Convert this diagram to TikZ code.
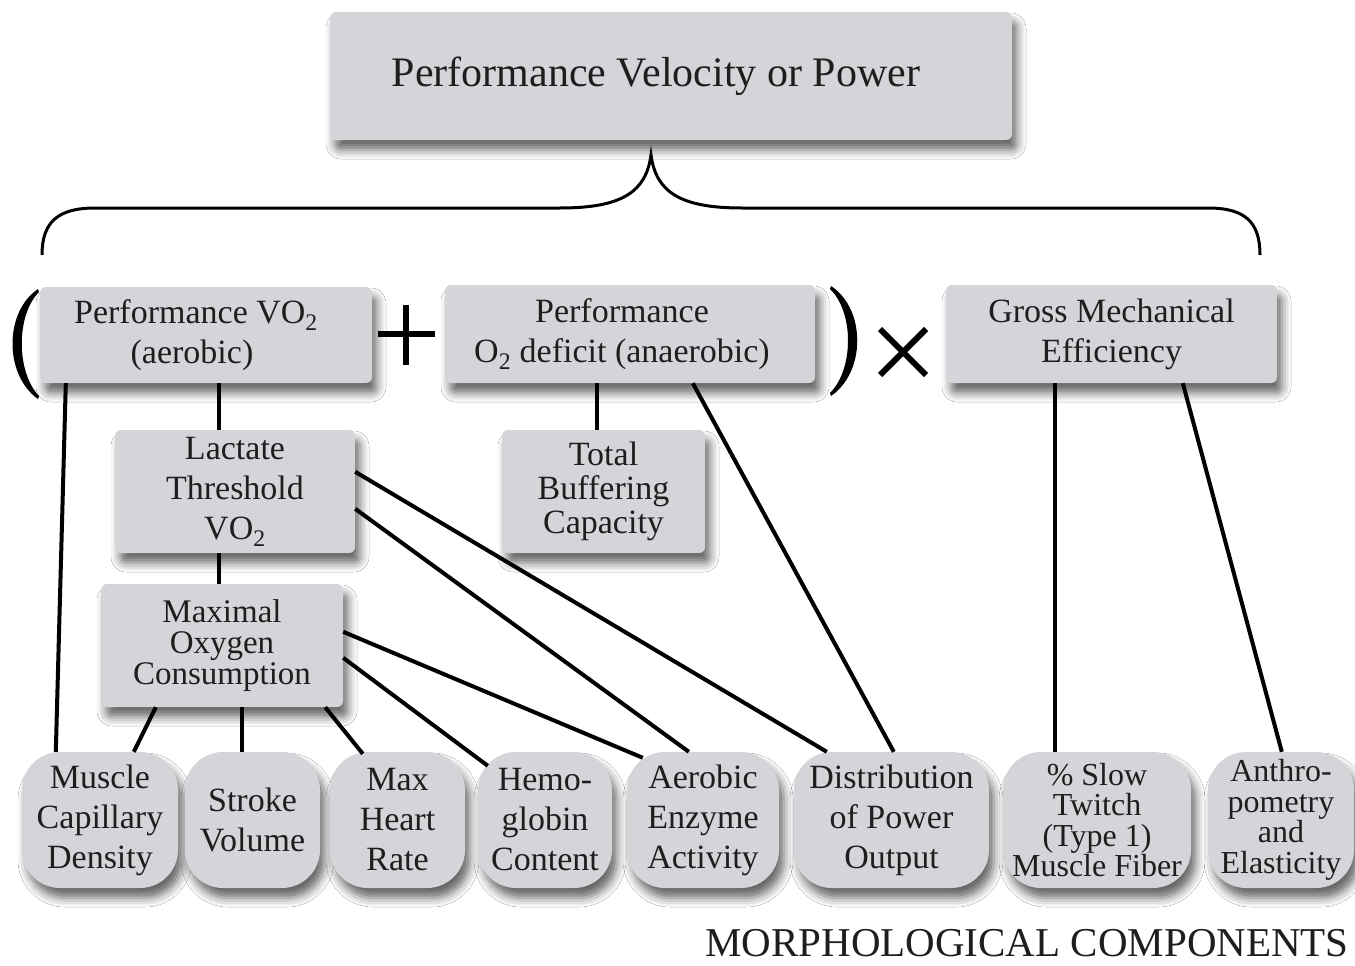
\documentclass[tikz,border=0pt]{standalone}
\usepackage{fontspec}
\setmainfont{Liberation Serif}
\usetikzlibrary{calc,shadows.blur}
\definecolor{boxgray}{RGB}{212,213,216}
\definecolor{ink}{RGB}{30,30,30}
\tikzset{
  shad/.style={blur shadow={shadow xshift=5pt, shadow yshift=-10pt, shadow blur radius=9pt, shadow opacity=60}},
  sqbox/.style={shad, rectangle, rounded corners=6pt, fill=boxgray, inner sep=0pt, align=center, text=ink,
     font=\fontsize{34}{40}\selectfont},
  rbox/.style={shad, rectangle, rounded corners=38pt, fill=boxgray, inner sep=0pt, align=center, text=ink,
     minimum height=136pt, font=\fontsize{34}{40}\selectfont},
  conn/.style={line width=4pt, draw=black},
  sym/.style={line width=6pt, draw=black},
}
\begin{document}
\begin{tikzpicture}[x=1pt,y=-1pt]
\useasboundingbox (0,0) rectangle (1355,966);
\fill[white] (0,0) rectangle (1355,966);

% top box
\node[sqbox, minimum width=682pt, minimum height=128pt, font=\fontsize{42}{48}\selectfont] (top) at (671,76) {Performance Velocity or Power\hspace*{30pt}};

% brace
\draw[line width=3pt] (42,255) .. controls (42,222) and (58,208) .. (95,208) -- (560,208)
  .. controls (622,208) and (646,192) .. (651,155)
  .. controls (656,192) and (680,208) .. (742,208) -- (1208,208)
  .. controls (1245,208) and (1260,222) .. (1260,255);

% middle row
\node[sqbox, minimum width=332pt, minimum height=96pt] (A) at (206,335) {Performance VO\textsubscript{2}\hspace*{20pt}\\(aerobic)\hspace*{28pt}};
\node[sqbox, minimum width=370pt, minimum height=98pt] (B) at (630,334) {Performance\hspace*{16pt}\\O\textsubscript{2} deficit (anaerobic)\hspace*{16pt}};
\node[sqbox, minimum width=331pt, minimum height=98pt] (C) at (1111.5,334) {Gross Mechanical\\Efficiency};

% parens and operators
\fill[black] (38,289) .. controls (4,312) and (4,375) .. (38,399) -- (39,396)
  .. controls (16,372) and (16,315) .. (39,292) -- cycle;
\fill[black] (831,286) .. controls (866,309) and (866,372) .. (831,396) -- (830,393)
  .. controls (854,369) and (854,312) .. (830,289) -- cycle;
\draw[sym] (378,334) -- (435,334) (406,305) -- (406,365);
\draw[sym] (880,329) -- (926,375) (926,329) -- (880,375);

% second tier
\node[sqbox, minimum width=240pt, minimum height=123pt] (D) at (235,491.5) {Lactate\\Threshold\\VO\textsubscript{2}};
\node[sqbox, minimum width=203pt, minimum height=123pt, font=\fontsize{34}{34}\selectfont] (E) at (603.5,491.5) {Total\\Buffering\\Capacity};
\node[sqbox, minimum width=242pt, minimum height=123pt, font=\fontsize{33}{31}\selectfont] (F) at (222,645.5) {Maximal\\Oxygen\\Consumption};

% bottom row
\node[rbox, minimum width=156pt] (m1) at (100,820) {Muscle\\Capillary\\Density};
\node[rbox, minimum width=135pt] (m2) at (252.5,820) {Stroke\\Volume};
\node[rbox, minimum width=135pt] (m3) at (397.5,820) {Max\\Heart\\Rate};
\node[rbox, minimum width=134pt] (m4) at (545,820) {Hemo-\\globin\\Content};
\node[rbox, minimum width=152pt] (m5) at (703,820) {Aerobic\\Enzyme\\Activity};
\node[rbox, minimum width=195pt] (m6) at (891.5,820) {Distribution\\of Power\\Output};
\node[rbox, minimum width=188pt, font=\fontsize{32}{30.5}\selectfont] (m7) at (1097,820) {\% Slow\\Twitch\\(Type 1)\\Muscle Fiber};
\node[rbox, minimum width=146pt, font=\fontsize{32}{30.5}\selectfont] (m8) at (1281,820) {Anthro-\\pometry\\and\\Elasticity};

\node[anchor=base east, inner sep=0pt, text=ink, font=\fontsize{41}{48}\selectfont] (lab) at (1349,956) {MORPHOLOGICAL COMPONENTS};

% connectors
\draw[conn] ($(A.south west)+(26,0)$) -- ($(m1.north west)+(34,0)$);
\draw[conn] ($(A.south west)+(179,0)$) -- ($(D.north west)+(104,0)$);
\draw[conn] ($(D.south west)+(104,0)$) -- ($(F.north west)+(118,0)$);
\draw[conn] ($(F.south west)+(55,0)$) -- ($(m1.north west)+(112,0)$);
\draw[conn] ($(F.south west)+(141,0)$) -- ($(m2.north west)+(57,0)$);
\draw[conn] ($(F.south east)+(-18,0)$) -- ($(m3.north west)+(33,2)$);
\draw[conn] ($(F.north east)+(0,74)$) -- ($(m4.north west)+(10,14)$);
\draw[conn] ($(F.north east)+(0,48)$) -- ($(m5.north west)+(16,6)$);
\draw[conn] ($(D.north east)+(0,42)$) -- ($(m6.north west)+(33,0)$);
\draw[conn] ($(D.north east)+(0,79)$) -- ($(m5.north west)+(62,0)$);
\draw[conn] ($(B.south west)+(152,0)$) -- ($(E.north west)+(95,0)$);
\draw[conn] ($(B.south west)+(248,0)$) -- ($(m6.north west)+(100,0)$);
\draw[conn] ($(C.south west)+(109,0)$) -- ($(m7.north west)+(52,0)$);
\draw[conn] ($(C.south west)+(237,0)$) -- ($(m8.north west)+(74,0)$);
\end{tikzpicture}
\end{document}
